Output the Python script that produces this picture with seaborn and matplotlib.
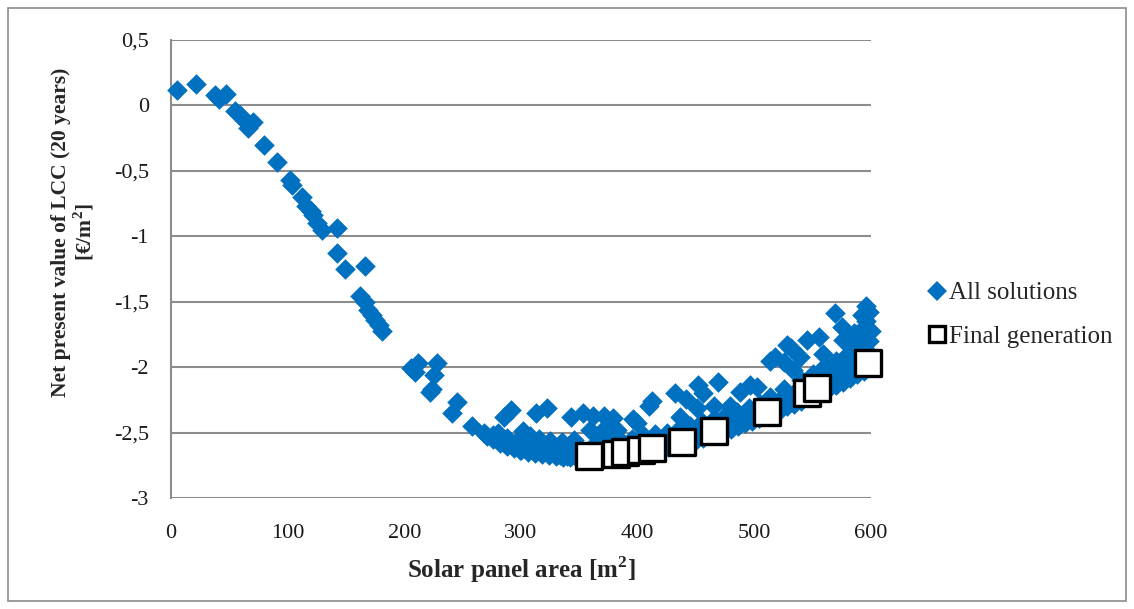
import matplotlib
matplotlib.use("Agg")
import matplotlib.pyplot as plt
import seaborn as sns
import pandas as pd
from matplotlib.lines import Line2D
from matplotlib.patches import Rectangle
from matplotlib.ticker import FixedLocator, FuncFormatter

# ---- data: all solutions (solar panel area m2, NPV of LCC EUR/m2) ----
all_x = [5, 21, 38, 41, 47, 55, 59, 63, 66, 70, 80, 91, 102, 104, 112, 116, 120, 122, 125, 129,
         142, 142, 149, 166, 162, 166, 169, 172, 175, 178, 181,
         206, 209, 212, 228, 225, 222, 224, 245, 241, 258, 268, 271, 276,
         # upper scattered points
         285, 291, 313, 322, 343, 353, 362, 371, 379, 396, 412, 410, 432, 441, 452, 456, 469, 488, 496,
         502, 513, 518, 525, 528, 531, 539, 545, 555, 559, 569, 575, 576, 585, 592, 596, 595, 598,
         # middle points
         282, 292, 302, 308, 299, 316, 325, 333, 345, 359, 371, 382, 339, 399, 436, 451, 465, 479, 479,
         499, 513, 525, 553, 568, 582, 596, 533, 505,
         # lower edge of the band
         276, 282, 288, 294, 300, 306, 312, 318, 324, 330, 336, 342, 348, 354, 360, 366, 372, 378, 384,
         390, 396, 402, 408, 414, 420, 426, 432, 438, 444, 450, 456, 462, 468, 474, 480, 486, 492, 498,
         504, 510, 516, 522, 528, 534, 540, 546, 552, 558, 564, 570, 576, 582, 588, 594, 600,
         # second row of the band
         280, 288, 296, 304, 312, 320, 328, 336, 344, 352, 360, 368, 376, 384, 392, 400, 408, 416, 424,
         432, 440, 448, 456, 464, 472, 480, 488, 496, 504, 512, 520, 528, 536, 544, 552, 560, 568, 576,
         584, 592, 600,
         # third row of the band
         305, 315, 325, 335, 345, 365, 375, 385, 395, 405, 415, 425, 435, 445, 455, 465, 475, 485, 495,
         505, 515, 525, 535, 545, 555, 565, 575, 585, 595, 600,
         # upper right cluster
         540, 550, 560, 570, 580, 590, 598, 585, 600, 588, 596]
all_y = [0.12, 0.16, 0.08, 0.05, 0.09, -0.04, -0.07, -0.12, -0.17, -0.13, -0.30, -0.43, -0.57, -0.61,
         -0.70, -0.77, -0.81, -0.84, -0.90, -0.95,
         -0.94, -1.13, -1.25, -1.23, -1.46, -1.50, -1.56, -1.60, -1.64, -1.68, -1.72,
         -2.01, -2.04, -1.97, -1.97, -2.06, -2.19, -2.17, -2.27, -2.35, -2.45, -2.50, -2.53, -2.52,
         -2.38, -2.33, -2.35, -2.31, -2.38, -2.35, -2.37, -2.37, -2.39, -2.40, -2.26, -2.30, -2.20, -2.24,
         -2.14, -2.20, -2.11, -2.19, -2.14,
         -2.15, -1.95, -1.92, -1.96, -1.83, -1.85, -1.92, -1.79, -1.77, -1.90, -1.59, -1.69, -1.79, -1.74,
         -1.60, -1.53, -1.69, -1.58,
         -2.57, -2.59, -2.49, -2.53, -2.63, -2.61, -2.63, -2.67, -2.56, -2.48, -2.47, -2.48, -2.68, -2.43,
         -2.38, -2.31, -2.30, -2.30, -2.46,
         -2.39, -2.23, -2.17, -2.10, -2.05, -1.97, -1.87, -2.02, -2.38,
         -2.55, -2.58, -2.60, -2.62, -2.63, -2.645, -2.655, -2.665, -2.675, -2.68, -2.69, -2.69, -2.695,
         -2.70, -2.70, -2.695, -2.695, -2.69, -2.68,
         -2.675, -2.665, -2.655, -2.645, -2.635, -2.625, -2.61, -2.60, -2.585, -2.57, -2.555, -2.54, -2.52,
         -2.505, -2.485, -2.47, -2.45, -2.43, -2.41,
         -2.39, -2.365, -2.345, -2.325, -2.30, -2.28, -2.255, -2.23, -2.21, -2.185, -2.16, -2.135, -2.11,
         -2.08, -2.055, -2.03, -2.00,
         -2.50, -2.54, -2.57, -2.59, -2.60, -2.61, -2.62, -2.63, -2.635, -2.64, -2.64, -2.635, -2.63,
         -2.625, -2.615, -2.60, -2.585, -2.57, -2.555,
         -2.54, -2.52, -2.50, -2.48, -2.46, -2.435, -2.41, -2.385, -2.36, -2.335, -2.305, -2.275, -2.245,
         -2.215, -2.185, -2.155, -2.12, -2.09, -2.055,
         -2.02, -1.99, -1.96,
         -2.53, -2.55, -2.565, -2.57, -2.58, -2.575, -2.57, -2.56, -2.55, -2.53, -2.51, -2.50, -2.47,
         -2.45, -2.42, -2.40, -2.37, -2.34, -2.31,
         -2.28, -2.25, -2.22, -2.19, -2.15, -2.12, -2.08, -2.04, -2.00, -1.95, -1.92,
         -2.10, -2.05, -2.00, -1.95, -1.90, -1.85, -1.80, -1.82, -1.72, -1.75, -1.65]

# ---- data: final generation ----
final_x = [358, 381, 389, 403, 412, 438, 465, 511, 545, 554, 597]
final_y = [-2.68, -2.66, -2.65, -2.63, -2.62, -2.57, -2.485, -2.34, -2.20, -2.16, -1.97]

y_ticks = [0.5, 0, -0.5, -1, -1.5, -2, -2.5, -3]
x_ticks = [0, 100, 200, 300, 400, 500, 600]

df_all = pd.DataFrame({"area": all_x, "npv": all_y})
df_final = pd.DataFrame({"area": final_x, "npv": final_y})

sns.set_style("white")
plt.rcParams["font.family"] = ["Liberation Serif", "DejaVu Serif"]
plt.rcParams["mathtext.fontset"] = "custom"
plt.rcParams["mathtext.rm"] = "Liberation Serif"
plt.rcParams["mathtext.bf"] = "Liberation Serif:bold"

fig = plt.figure(figsize=(11.34, 6.09), dpi=100)
ax = fig.add_axes([171 / 1134, 1 - 498 / 609, 700 / 1134, 458 / 609])

blue = "#0070C0"
sns.scatterplot(data=df_all, x="area", y="npv", marker="D", s=110, color=blue,
                linewidth=0, ax=ax, zorder=3, legend=False, clip_on=False)
sns.scatterplot(data=df_final, x="area", y="npv", marker="s", s=360, facecolor="white",
                edgecolor="black", linewidth=2.4, ax=ax, zorder=4, legend=False, clip_on=False)

ax.set_xlim(0, 600)
ax.set_ylim(-3, 0.5)
ax.yaxis.set_major_locator(FixedLocator(y_ticks))
ax.xaxis.set_major_locator(FixedLocator(x_ticks))
ax.yaxis.set_major_formatter(FuncFormatter(lambda v, p: ("%g" % v).replace(".", ",")))
ax.xaxis.set_major_formatter(FuncFormatter(lambda v, p: "%d" % v))
ax.tick_params(axis="y", length=0, pad=16, labelsize=16, colors="#1a1a1a")
ax.tick_params(axis="x", length=0, pad=19, labelsize=16, colors="#1a1a1a")
ax.grid(axis="y", color="#8c8c8c", linewidth=1.5)
ax.grid(axis="x", visible=False)
ax.set_axisbelow(True)
for side in ["top", "right", "bottom"]:
    ax.spines[side].set_visible(False)
ax.spines["left"].set_color("#8c8c8c")
ax.spines["left"].set_linewidth(1.5)

ax.set_xlabel("Solar panel area [m$^\\mathbf{2}$]", fontsize=18, fontweight="bold", labelpad=8)
ax.set_ylabel("")
fig.text(74 / 1134, 1 - 232 / 609, "Net present value of LCC (20 years)\n[€/m$^\\mathbf{2}$]",
         rotation=90, ha="center", va="center", multialignment="center",
         fontsize=15.5, fontweight="bold", linespacing=1.05)

handles = [
    Line2D([], [], linestyle="none", marker="D", markersize=10, markerfacecolor=blue,
           markeredgewidth=0, label="All solutions"),
    Line2D([], [], linestyle="none", marker="s", markersize=12, markerfacecolor="white",
           markeredgecolor="black", markeredgewidth=2.4, label="Final generation"),
]
fig.legend(handles=handles, loc="center left", bbox_to_anchor=(918 / 1134, 1 - 315 / 609),
           frameon=False, fontsize=18, handlelength=0.7, handletextpad=0.15,
           labelspacing=0.85, borderaxespad=0)

fig.patches.append(Rectangle((8 / 1134, 8 / 609), 1118 / 1134, 593 / 609,
                             transform=fig.transFigure, fill=False,
                             edgecolor="#8c8c8c", linewidth=1.2))

fig.savefig("out.png", dpi=100)
